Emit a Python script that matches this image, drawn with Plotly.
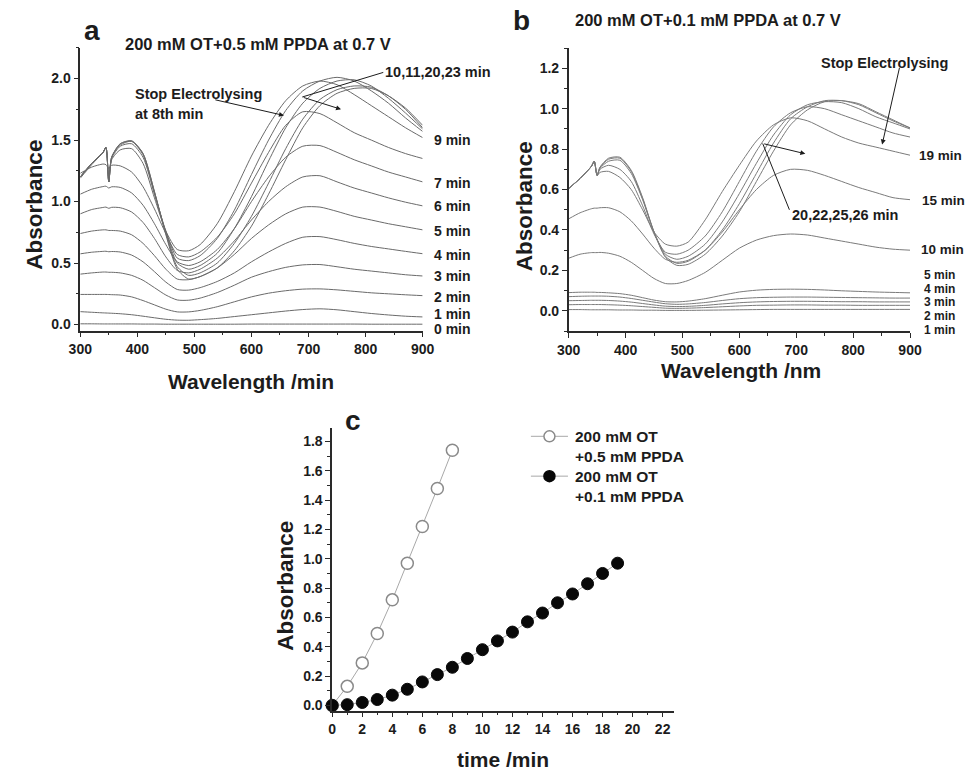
import plotly.graph_objects as go

# ---------------- data ----------------
# common wavelength grid (nm) for the UV-vis spectra
WL = [300, 320, 340, 345, 350, 355, 370, 390, 410, 430, 450, 470, 490, 510,
      540, 570, 600, 630, 660, 690, 720, 750, 780, 810, 840, 870, 900]

# panel a: 200 mM OT + 0.5 mM PPDA
a_0 = [0.006, 0.006, 0.005, 0.005, 0.005, 0.005, 0.005, 0.005, 0.004, 0.004, 0.003, 0.003, 0.003, 0.003,
       0.003, 0.003, 0.004, 0.004, 0.004, 0.004, 0.004, 0.004, 0.004, 0.003, 0.003, 0.003, 0.003]
a_1 = [0.105, 0.10, 0.095, 0.094, 0.093, 0.092, 0.088, 0.08, 0.068, 0.055, 0.043, 0.036, 0.035, 0.04,
       0.05, 0.065, 0.08, 0.095, 0.11, 0.122, 0.128, 0.12, 0.105, 0.09, 0.078, 0.068, 0.062]
a_2 = [0.245, 0.245, 0.245, 0.245, 0.244, 0.243, 0.24, 0.225, 0.195, 0.16, 0.125, 0.103, 0.103, 0.115,
       0.145, 0.185, 0.225, 0.255, 0.275, 0.288, 0.29, 0.282, 0.27, 0.258, 0.25, 0.242, 0.235]
a_3 = [0.41, 0.42, 0.427, 0.427, 0.425, 0.425, 0.42, 0.40, 0.36, 0.30, 0.24, 0.20, 0.198, 0.215,
       0.26, 0.32, 0.385, 0.43, 0.465, 0.485, 0.488, 0.47, 0.45, 0.435, 0.42, 0.405, 0.395]
a_4 = [0.575, 0.588, 0.595, 0.596, 0.592, 0.594, 0.59, 0.565, 0.51, 0.43, 0.345, 0.285, 0.28, 0.30,
       0.35, 0.42, 0.51, 0.59, 0.66, 0.71, 0.715, 0.69, 0.66, 0.635, 0.615, 0.595, 0.576]
a_5 = [0.74, 0.76, 0.77, 0.77, 0.765, 0.765, 0.76, 0.73, 0.66, 0.56, 0.45, 0.37, 0.365, 0.39,
       0.46, 0.57, 0.70, 0.81, 0.90, 0.955, 0.955, 0.92, 0.88, 0.85, 0.82, 0.795, 0.77]
a_6 = [0.90, 0.935, 0.952, 0.955, 0.945, 0.953, 0.95, 0.915, 0.83, 0.70, 0.55, 0.44, 0.42, 0.45,
       0.54, 0.68, 0.85, 1.00, 1.12, 1.20, 1.21, 1.16, 1.11, 1.07, 1.03, 0.995, 0.965]
a_7 = [1.06, 1.10, 1.122, 1.125, 1.11, 1.12, 1.115, 1.07, 0.97, 0.82, 0.65, 0.51, 0.48, 0.51,
       0.61, 0.78, 1.00, 1.20, 1.36, 1.45, 1.455, 1.40, 1.34, 1.29, 1.24, 1.20, 1.16]
a_8 = [1.23, 1.28, 1.305, 1.30, 1.27, 1.295, 1.29, 1.24, 1.12, 0.94, 0.74, 0.57, 0.55, 0.59,
       0.71, 0.90, 1.15, 1.40, 1.62, 1.73, 1.715, 1.64, 1.56, 1.50, 1.44, 1.39, 1.35]
a_9 = [1.19, 1.30, 1.40, 1.44, 1.16, 1.34, 1.42, 1.43, 1.31, 1.03, 0.76, 0.61, 0.60, 0.65,
       0.82, 1.08, 1.37, 1.62, 1.82, 1.94, 1.98, 1.95, 1.87, 1.78, 1.69, 1.60, 1.52]
a_10 = [1.20, 1.31, 1.40, 1.44, 1.16, 1.35, 1.45, 1.47, 1.36, 1.06, 0.76, 0.54, 0.52, 0.56,
        0.70, 0.93, 1.22, 1.50, 1.74, 1.90, 1.98, 2.01, 1.98, 1.90, 1.80, 1.68, 1.57]
a_11 = [1.20, 1.31, 1.40, 1.44, 1.16, 1.36, 1.47, 1.49, 1.38, 1.07, 0.75, 0.50, 0.45, 0.48,
        0.58, 0.78, 1.04, 1.33, 1.60, 1.80, 1.92, 1.98, 1.99, 1.94, 1.84, 1.72, 1.59]
a_20 = [1.20, 1.31, 1.40, 1.44, 1.16, 1.36, 1.47, 1.495, 1.39, 1.08, 0.74, 0.47, 0.40, 0.42,
        0.50, 0.66, 0.88, 1.15, 1.43, 1.67, 1.83, 1.91, 1.94, 1.93, 1.86, 1.75, 1.60]
a_23 = [1.20, 1.31, 1.40, 1.44, 1.16, 1.36, 1.46, 1.49, 1.39, 1.08, 0.73, 0.45, 0.37, 0.39,
        0.46, 0.60, 0.80, 1.06, 1.34, 1.60, 1.78, 1.88, 1.92, 1.92, 1.86, 1.76, 1.62]

# panel b: 200 mM OT + 0.1 mM PPDA
b_1 = [0.006, 0.006, 0.005, 0.005, 0.005, 0.005, 0.005, 0.004, 0.004, 0.003, 0.003, 0.002, 0.002, 0.002,
       0.003, 0.004, 0.005, 0.006, 0.007, 0.007, 0.007, 0.007, 0.007, 0.007, 0.007, 0.007, 0.007]
b_2 = [0.03, 0.031, 0.031, 0.031, 0.031, 0.031, 0.03, 0.028, 0.025, 0.021, 0.017, 0.013, 0.012, 0.013,
       0.016, 0.02, 0.024, 0.027, 0.028, 0.029, 0.029, 0.028, 0.028, 0.027, 0.027, 0.027, 0.027]
b_3 = [0.05, 0.051, 0.052, 0.052, 0.052, 0.052, 0.051, 0.048, 0.043, 0.036, 0.029, 0.023, 0.021, 0.022,
       0.027, 0.034, 0.04, 0.044, 0.046, 0.047, 0.047, 0.046, 0.045, 0.045, 0.044, 0.044, 0.044]
b_4 = [0.07, 0.072, 0.073, 0.073, 0.073, 0.073, 0.072, 0.068, 0.061, 0.052, 0.043, 0.035, 0.032, 0.034,
       0.041, 0.051, 0.06, 0.065, 0.067, 0.068, 0.068, 0.067, 0.066, 0.065, 0.064, 0.063, 0.063]
b_5 = [0.09, 0.092, 0.092, 0.092, 0.091, 0.091, 0.089, 0.085, 0.077, 0.065, 0.053, 0.045, 0.044, 0.048,
       0.06, 0.077, 0.093, 0.102, 0.106, 0.107, 0.106, 0.103, 0.099, 0.096, 0.093, 0.091, 0.089]
b_10 = [0.26, 0.28, 0.288, 0.288, 0.288, 0.289, 0.285, 0.27, 0.24, 0.20, 0.16, 0.135, 0.135, 0.15,
        0.19, 0.25, 0.31, 0.35, 0.372, 0.38, 0.375, 0.36, 0.345, 0.33, 0.315, 0.305, 0.30]
b_15 = [0.455, 0.485, 0.505, 0.508, 0.508, 0.51, 0.51, 0.49, 0.445, 0.38, 0.31, 0.255, 0.24, 0.25,
        0.30, 0.39, 0.50, 0.60, 0.67, 0.70, 0.695, 0.67, 0.64, 0.61, 0.585, 0.56, 0.55]
b_19 = [0.605, 0.655, 0.715, 0.74, 0.67, 0.685, 0.69, 0.66, 0.60, 0.50, 0.39, 0.33, 0.32, 0.34,
        0.45, 0.59, 0.72, 0.84, 0.92, 0.955, 0.94, 0.90, 0.86, 0.83, 0.81, 0.79, 0.77]
b_20 = [0.605, 0.655, 0.715, 0.74, 0.67, 0.70, 0.72, 0.70, 0.64, 0.52, 0.38, 0.29, 0.28, 0.30,
        0.37, 0.49, 0.64, 0.79, 0.91, 0.98, 1.01, 1.00, 0.97, 0.94, 0.91, 0.88, 0.86]
b_22 = [0.605, 0.655, 0.715, 0.74, 0.67, 0.705, 0.74, 0.745, 0.68, 0.55, 0.39, 0.28, 0.255, 0.27,
        0.33, 0.44, 0.58, 0.73, 0.87, 0.97, 1.02, 1.035, 1.03, 1.00, 0.96, 0.93, 0.90]
b_25 = [0.605, 0.655, 0.715, 0.74, 0.67, 0.71, 0.75, 0.755, 0.69, 0.555, 0.39, 0.27, 0.235, 0.245,
        0.30, 0.40, 0.53, 0.68, 0.83, 0.95, 1.01, 1.04, 1.04, 1.02, 0.98, 0.94, 0.905]
b_26 = [0.605, 0.655, 0.715, 0.74, 0.67, 0.71, 0.755, 0.76, 0.695, 0.56, 0.39, 0.265, 0.225, 0.23,
        0.28, 0.37, 0.49, 0.64, 0.79, 0.92, 0.995, 1.035, 1.04, 1.025, 0.985, 0.945, 0.905]

# panel c: absorbance growth with electrolysis time
t_05 = [0, 1, 2, 3, 4, 5, 6, 7, 8]
abs_05 = [0.0, 0.13, 0.29, 0.49, 0.72, 0.97, 1.22, 1.48, 1.74]
t_01 = [0, 1, 2, 3, 4, 5, 6, 7, 8, 9, 10, 11, 12, 13, 14, 15, 16, 17, 18, 19]
abs_01 = [0.0, 0.005, 0.02, 0.04, 0.07, 0.11, 0.16, 0.21, 0.26, 0.32, 0.38, 0.44, 0.50, 0.57,
          0.63, 0.70, 0.76, 0.83, 0.90, 0.97]

SPECTRA_A = [a_0, a_1, a_2, a_3, a_4, a_5, a_6, a_7, a_8, a_9, a_10, a_11, a_20, a_23]
SPECTRA_B = [b_1, b_2, b_3, b_4, b_5, b_10, b_15, b_19, b_20, b_22, b_25, b_26]

# curve end labels: (text, pixel x of left edge, pixel y of centre, font size)
LABELS_A = [("9 min", 431, 141, 14), ("7 min", 431, 184, 14), ("6 min", 431, 207, 14),
            ("5 min", 431, 232, 14), ("4 min", 431, 256, 14), ("3 min", 431, 277, 14),
            ("2 min", 431, 298, 14), ("1 min", 431, 315, 14), ("0 min", 431, 330, 14)]
LABELS_B = [("19 min", 928, 156, 13.5), ("15 min", 931, 201, 13.5), ("10 min", 930, 250, 13.5),
            ("5 min", 933, 276, 12), ("4 min", 933, 290, 12), ("3 min", 933, 303.5, 12),
            ("2 min", 933, 317, 12), ("1 min", 933, 331, 12)]

# ---------------- figure ----------------
W, H = 975, 772
FONT = "Liberation Sans, Arial, Helvetica, sans-serif"
INK = "#1c1c1c"


def px(x):
    return x / W


def py(y):
    return 1 - y / H


fig = go.Figure()

for ys in SPECTRA_A:
    fig.add_trace(go.Scatter(x=WL, y=ys, mode="lines", xaxis="x", yaxis="y",
                             line=dict(color="#6a6a6a", width=1, shape="spline", smoothing=0.7),
                             showlegend=False, hoverinfo="skip"))

for ys in SPECTRA_B:
    fig.add_trace(go.Scatter(x=WL, y=ys, mode="lines", xaxis="x2", yaxis="y2",
                             line=dict(color="#7a7a7a", width=1, shape="spline", smoothing=0.7),
                             showlegend=False, hoverinfo="skip"))

fig.add_trace(go.Scatter(x=t_05, y=abs_05, mode="lines+markers", xaxis="x3", yaxis="y3",
                         line=dict(color="#a8a8a8", width=1),
                         marker=dict(symbol="circle", size=12, color="white",
                                     line=dict(color="#8a8a8a", width=1.5)),
                         cliponaxis=False, showlegend=False))
fig.add_trace(go.Scatter(x=t_01, y=abs_01, mode="lines+markers", xaxis="x3", yaxis="y3",
                         line=dict(color="#a8a8a8", width=1),
                         marker=dict(symbol="circle", size=12, color="#080808",
                                     line=dict(color="#080808", width=1)),
                         cliponaxis=False, showlegend=False))


def axis(domain, rng, dtick, minor, anchor, fmt=None):
    d = dict(domain=domain, range=rng, anchor=anchor, dtick=dtick, tick0=0,
             showline=True, linecolor="#2a2a2a", linewidth=1.5,
             ticks="outside", ticklen=5, tickwidth=1.2, tickcolor="#2a2a2a",
             showgrid=False, zeroline=False, fixedrange=True,
             tickfont=dict(family=FONT, size=14, color=INK, weight="bold"),
             minor=dict(dtick=minor, ticks="outside", ticklen=3, tickwidth=1,
                        tickcolor="#2a2a2a", showgrid=False))
    if fmt:
        d["tickformat"] = fmt
    return d


fig.update_layout(
    width=W, height=H, margin=dict(l=0, r=0, t=0, b=0),
    paper_bgcolor="white", plot_bgcolor="white",
    xaxis=axis([px(70), px(421)], [300, 900], 100, 50, "y"),
    yaxis=axis([py(332), py(48)], [-0.05, 2.25], 0.5, 0.25, "x", ".1f"),
    xaxis2=axis([px(570.7), px(920.7)], [300, 900], 100, 50, "y2"),
    yaxis2=axis([py(332.3), py(48.3)], [-0.1, 1.3], 0.2, 0.1, "x2", ".1f"),
    xaxis3=axis([px(328.3), px(678.3)], [0, 22.73], 2, 1, "y3"),
    yaxis3=axis([py(713.3), py(430)], [-0.035, 1.89], 0.2, 0.1, "x3", ".1f"),
)

ann = []
shapes = []


def text(t, x, y, size, xanchor="left", angle=0):
    ann.append(dict(text=t, x=px(x), y=py(y), xref="paper", yref="paper", showarrow=False,
                    xanchor=xanchor, yanchor="middle", textangle=angle,
                    font=dict(family=FONT, size=size, color=INK, weight="bold")))


def arrow(xref, yref, tail, tip):
    ann.append(dict(text="", x=tip[0], y=tip[1], ax=tail[0], ay=tail[1],
                    xref=xref, yref=yref, axref=xref, ayref=yref,
                    showarrow=True, arrowhead=2, arrowsize=1, arrowwidth=1,
                    arrowcolor=INK, standoff=0, startstandoff=0))


def segment(xref, yref, p0, p1):
    shapes.append(dict(type="line", xref=xref, yref=yref, x0=p0[0], y0=p0[1],
                       x1=p1[0], y1=p1[1], line=dict(color=INK, width=1)))


# panel letters and titles
text("a", 82, 31, 28, "center")
text("b", 522, 21, 28, "center")
text("c", 350, 422, 28, "center")
text("200 mM OT+0.5 mM PPDA at 0.7 V", 252, 44, 16.5, "center")
text("200 mM OT+0.1 mM PPDA at 0.7 V", 714, 20, 16.5, "center")

# axis titles
text("Absorbance", 23, 205, 22.5, "center", -90)
text("Wavelength /min", 245, 383, 21, "center")
text("Absorbance", 525, 207, 22.5, "center", -90)
text("Wavelength /nm", 747, 372, 21, "center")
text("Absorbance", 281, 588, 22.5, "center", -90)
text("time /min", 503, 762, 21, "center")

# curve labels
for t, x, y, s in LABELS_A + LABELS_B:
    text(t, x, y, s)

# panel a callouts
text("Stop Electrolysing", 124, 94, 14.5)
text("at 8th min", 124, 114, 14.5)
arrow("x", "y", (534, 1.83), (657, 1.70))
text("10,11,20,23 min", 380, 72, 14.5)
segment("x", "y", (831, 2.05), (689, 1.85))
arrow("x", "y", (689, 1.85), (757, 1.75))

# panel b callouts
text("Stop Electrolysing", 827, 63, 14.5)
arrow("x2", "y2", (882, 1.21), (851, 0.823))
text("20,22,25,26 min", 798, 216, 14.5)
segment("x2", "y2", (688, 0.50), (641, 0.828))
arrow("x2", "y2", (641, 0.828), (716, 0.777))

# panel c legend
for yy, fill, edge in [(438, "white", "#8a8a8a"), (478, "#080808", "#080808")]:
    shapes.append(dict(type="line", xref="paper", yref="paper", x0=px(532), x1=px(570),
                       y0=py(yy), y1=py(yy), line=dict(color="#a8a8a8", width=1)))
    shapes.append(dict(type="circle", xref="paper", yref="paper", xsizemode="pixel",
                       ysizemode="pixel", xanchor=px(551), yanchor=py(yy),
                       x0=-5.5, x1=5.5, y0=-5.5, y1=5.5, fillcolor=fill,
                       line=dict(color=edge, width=1.5)))
text("200 mM OT", 575, 438, 15.5)
text("+0.5 mM PPDA", 575, 458, 15.5)
text("200 mM OT", 575, 478, 15.5)
text("+0.1 mM PPDA", 575, 498, 15.5)

fig.update_layout(annotations=ann, shapes=shapes)
fig.write_html("out.html")
